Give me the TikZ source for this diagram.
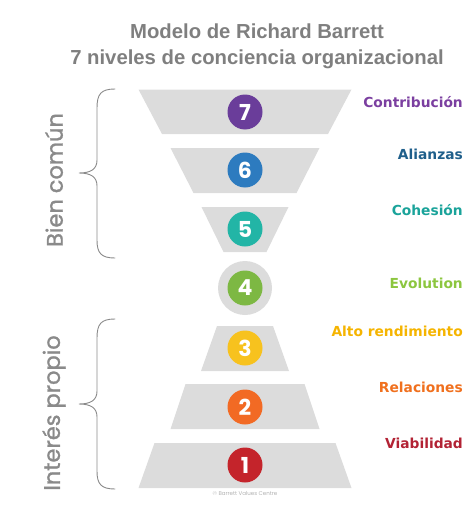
\documentclass[tikz,border=0pt]{standalone}
\usepackage{fontspec}
\setmainfont{Liberation Sans}
\newfontfamily\lblfont{DejaVu Sans}
\newfontfamily\numfont{Poppins}
\newfontfamily\sidefont[FakeBold=1.2]{Poppins}
\definecolor{trapgray}{HTML}{DCDCDC}
\definecolor{titlegray}{HTML}{7F7F7F}
\definecolor{sidegray}{HTML}{8A8A8A}
\definecolor{lvlA}{HTML}{C4242B}
\definecolor{lvlB}{HTML}{F26A24}
\definecolor{lvlC}{HTML}{F7C21E}
\definecolor{lvlD}{HTML}{7DB843}
\definecolor{lvlE}{HTML}{22B5A6}
\definecolor{lvlF}{HTML}{2D7BBF}
\definecolor{lvlG}{HTML}{6A3D9A}
\definecolor{txtA}{HTML}{B22234}
\definecolor{txtB}{HTML}{F0701E}
\definecolor{txtC}{HTML}{F5B400}
\definecolor{txtD}{HTML}{8CC63F}
\definecolor{txtE}{HTML}{1AA39A}
\definecolor{txtF}{HTML}{1F5F8B}
\definecolor{txtG}{HTML}{7B3FA0}
\tikzset{
  numcircle/.style={circle, minimum size=35pt, inner sep=0pt, text=white,
    font=\numfont\fontsize{22}{22}\selectfont\bfseries},
  levellabel/.style={anchor=east, inner sep=0pt,
    font=\lblfont\fontsize{13.8}{14}\selectfont\bfseries},
  sidelabel/.style={rotate=90, text=sidegray, inner sep=0pt,
    font=\sidefont\fontsize{22.5}{23}\selectfont},
  bracket/.style={draw=sidegray, line width=0.9pt, line cap=round}
}
\begin{document}
\begin{tikzpicture}[x=1pt,y=-1pt]
  \useasboundingbox (0,0) rectangle (474,506);

  % Titel
  \node[text=titlegray, align=center, font=\fontsize{20.3}{25.5}\selectfont\bfseries]
    (title) at (257,46.5) {Modelo de Richard\ Barrett\\7 niveles de conciencia\ organizacional};

  % Trapeze (Nummer/oben/unten/halbe Breite oben/halbe Breite unten)
  \foreach \n/\yt/\yb/\wt/\wb in {7/89.5/134/106.5/83, 6/148/193/74.5/51.5,
      5/207/252/43.5/21.5, 3/326/371/28/44, 2/384/429/59.5/74.5, 1/443/488/90.5/106.5} {
    \fill[trapgray] (245-\wt,\yt) -- (245+\wt,\yt) -- (245+\wb,\yb) -- (245-\wb,\yb) -- cycle;
  }

  % Kreis fuer Stufe 4
  \fill[trapgray] (245,288) circle (27);

  % Nummern und Beschriftungen
  \foreach \n/\yc/\yl/\col/\txt/\lab in {7/112/102/lvlG/txtG/Contribución,
      6/170/154/lvlF/txtF/Alianzas, 5/229/210/lvlE/txtE/Cohesión,
      4/288/283/lvlD/txtD/Evolution, 3/348/331/lvlC/txtC/Alto rendimiento,
      2/407/387/lvlB/txtB/Relaciones, 1/465/443/lvlA/txtA/Viabilidad} {
    \node[numcircle, fill=\col] (c\n) at (245,\yc) {\n};
    \node[levellabel, text=\txt] (l\n) at (463,\yl) {\lab};
  }

  % Klammern
  \draw[bracket] (115,89) .. controls (101,89) and (97,94) .. (97,108) -- (97,160)
    .. controls (97,169) and (91,173) .. (79,173) .. controls (91,173) and (97,177) .. (97,186)
    -- (97,240) .. controls (97,253) and (101,258) .. (115,258);
  \draw[bracket] (115,319) .. controls (101,319) and (97,324) .. (97,338) -- (97,391)
    .. controls (97,400) and (91,404) .. (79,404) .. controls (91,404) and (97,408) .. (97,417)
    -- (97,471) .. controls (97,484) and (101,489) .. (115,489);

  % Seitenbeschriftung
  \node[sidelabel] (common) at (54,180) {Bien común};
  \node[sidelabel] (self) at (54,413) {Interés propio};

  % Copyright
  \node[text=black!30, font=\numfont\fontsize{5.5}{6}\selectfont] (copy) at (245,493)
    {© Barrett Values Centre};
\end{tikzpicture}
\end{document}
